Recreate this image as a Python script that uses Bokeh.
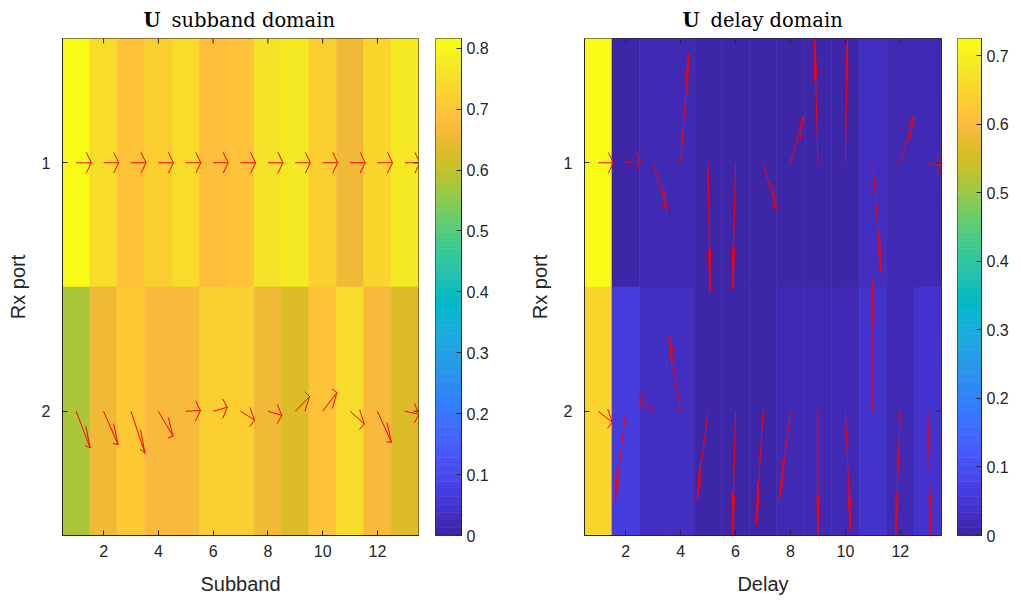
import numpy as np
from bokeh.plotting import figure
from bokeh.models import Range1d, LinearAxis, FixedTicker, ColumnDataSource
from bokeh.core.properties import value
from bokeh.transform import linear_cmap
from bokeh.layouts import row, column
from bokeh.embed import file_html
from bokeh.resources import INLINE

# ---------------- data ----------------
rx_ports = [1, 2]
subbands = list(range(1, 14))
delays = list(range(1, 14))
x_ticks = [2, 4, 6, 8, 10, 12]
y_ticks = [1, 2]

# |U| in subband domain (port 1 row, port 2 row)
sub_mag_port1 = [0.816, 0.740, 0.701, 0.724, 0.746, 0.676, 0.695, 0.759, 0.766, 0.714, 0.657, 0.727, 0.771]
sub_mag_port2 = [0.575, 0.657, 0.702, 0.672, 0.669, 0.724, 0.720, 0.652, 0.635, 0.699, 0.749, 0.672, 0.627]
# phase arrows (quiver components) in subband domain
sub_u_port1 = [0.55, 0.55, 0.55, 0.55, 0.55, 0.55, 0.55, 0.55, 0.55, 0.55, 0.55, 0.55, 0.55]
sub_v_port1 = [0.0, 0.0, 0.0, 0.0, 0.0, 0.0, 0.0, 0.0, 0.0, 0.0, 0.0, 0.0, 0.0]
sub_u_port2 = [0.51, 0.53, 0.51, 0.535, 0.537, 0.52, 0.51, 0.51, 0.52, 0.52, 0.52, 0.51, 0.52]
sub_v_port2 = [0.148, 0.134, 0.169, 0.10, -0.003, -0.016, 0.035, 0.017, -0.059, -0.075, 0.051, 0.125, 0.012]

# |U| in delay domain
delay_mag_port1 = [0.725, 0.011, 0.018, 0.018, 0.004, 0.004, 0.005, 0.007, 0.007, 0.007, 0.030, 0.020, 0.020]
delay_mag_port2 = [0.657, 0.060, 0.030, 0.030, 0.005, 0.006, 0.007, 0.018, 0.018, 0.018, 0.045, 0.022, 0.045]
delay_u_port1 = [0.55, 0.535, 0.51, 0.30, 0.073, -0.10, 0.50, 0.487, -0.12, 0.073, 0.30, 0.487, 0.50]
delay_v_port1 = [0.0, -0.008, 0.19, -0.438, 0.518, 0.508, 0.188, -0.188, -0.497, -0.497, 0.441, -0.188, 0.01]
delay_u_port2 = [0.51, -0.39, -0.51, -0.427, -0.40, -0.11, -0.244, -0.39, 0.0, 0.195, 0.0, -0.17, 0.12]
delay_v_port2 = [0.044, 0.363, -0.054, -0.305, 0.35, 0.497, 0.458, 0.347, 0.50, 0.484, -0.527, 0.497, 0.497]

cb1_ticks = [0, 0.1, 0.2, 0.3, 0.4, 0.5, 0.6, 0.7, 0.8]
cb2_ticks = [0, 0.1, 0.2, 0.3, 0.4, 0.5, 0.6, 0.7]

titles_bold = ["U", "U"]
titles_rest = ["subband domain", "delay domain"]
x_labels = ["Subband", "Delay"]
y_label = "Rx port"

# ---------------- style ----------------
PARULA_RGB = [
    (0.2422, 0.1504, 0.6603), (0.2504, 0.1650, 0.7076), (0.2578, 0.1818, 0.7511), (0.2647, 0.1978, 0.7952),
    (0.2706, 0.2147, 0.8364), (0.2751, 0.2342, 0.8710), (0.2783, 0.2559, 0.8991), (0.2803, 0.2782, 0.9221),
    (0.2813, 0.3006, 0.9414), (0.2810, 0.3228, 0.9579), (0.2795, 0.3447, 0.9717), (0.2760, 0.3667, 0.9829),
    (0.2699, 0.3892, 0.9906), (0.2602, 0.4123, 0.9952), (0.2440, 0.4358, 0.9988), (0.2206, 0.4603, 0.9973),
    (0.1963, 0.4847, 0.9892), (0.1834, 0.5074, 0.9798), (0.1786, 0.5289, 0.9682), (0.1764, 0.5499, 0.9520),
    (0.1687, 0.5703, 0.9359), (0.1540, 0.5902, 0.9218), (0.1460, 0.6091, 0.9079), (0.1380, 0.6276, 0.8973),
    (0.1248, 0.6459, 0.8883), (0.1113, 0.6635, 0.8763), (0.0952, 0.6798, 0.8598), (0.0689, 0.6948, 0.8394),
    (0.0297, 0.7082, 0.8163), (0.0036, 0.7203, 0.7917), (0.0067, 0.7312, 0.7660), (0.0433, 0.7411, 0.7394),
    (0.0964, 0.7500, 0.7120), (0.1408, 0.7584, 0.6842), (0.1717, 0.7670, 0.6554), (0.1938, 0.7758, 0.6251),
    (0.2161, 0.7843, 0.5923), (0.2470, 0.7918, 0.5567), (0.2906, 0.7973, 0.5188), (0.3406, 0.8008, 0.4789),
    (0.3909, 0.8029, 0.4354), (0.4456, 0.8024, 0.3909), (0.5044, 0.7993, 0.3480), (0.5616, 0.7942, 0.3045),
    (0.6174, 0.7876, 0.2612), (0.6720, 0.7793, 0.2227), (0.7242, 0.7698, 0.1910), (0.7738, 0.7598, 0.1646),
    (0.8203, 0.7498, 0.1535), (0.8634, 0.7406, 0.1596), (0.9035, 0.7330, 0.1774), (0.9393, 0.7288, 0.2100),
    (0.9728, 0.7298, 0.2394), (0.9956, 0.7434, 0.2371), (0.9970, 0.7659, 0.2199), (0.9952, 0.7893, 0.2028),
    (0.9892, 0.8136, 0.1885), (0.9786, 0.8386, 0.1766), (0.9676, 0.8639, 0.1643), (0.9610, 0.8890, 0.1537),
    (0.9597, 0.9135, 0.1423), (0.9628, 0.9373, 0.1265), (0.9691, 0.9606, 0.1064), (0.9769, 0.9839, 0.0805),
]
PARULA = ["#%02x%02x%02x" % tuple(int(round(c * 255)) for c in rgb) for rgb in PARULA_RGB]

AX = "#262626"
SANS = "Liberation Sans"
SERIF = "DejaVu Serif"
STRIP_H = 34
H = 564
TOP = 4
BOTTOM = 63
ALPHA, BETA = 0.33, 0.23


def style_axis(ax, ticks):
    ax.ticker = FixedTicker(ticks=ticks)
    ax.minor_tick_line_color = None
    ax.major_tick_in = 5
    ax.major_tick_out = 0
    ax.axis_line_color = AX
    ax.axis_line_width = 1
    ax.major_tick_line_color = AX
    ax.major_label_text_color = AX
    ax.major_label_text_font = SANS
    ax.major_label_text_font_size = "16px"
    ax.major_label_standoff = 9
    ax.axis_label_text_font = SANS
    ax.axis_label_text_font_style = "normal"
    ax.axis_label_text_font_size = "20px"
    ax.axis_label_text_color = AX


def panel(xvals, mag1, mag2, u1, v1, u2, v2, xlabel, ml, mr, fw):
    xr = Range1d(0.5, 13.5)
    yr = Range1d(2.5, 0.5)
    p = figure(width=ml + fw + mr, height=H, x_range=xr, y_range=yr,
               min_border_left=ml, min_border_right=mr, min_border_top=TOP, min_border_bottom=BOTTOM,
               toolbar_location=None, output_backend="svg", title=None,
               x_axis_location=None, y_axis_location=None)
    p.outline_line_color = AX
    p.outline_line_width = 1
    p.background_fill_color = "white"
    p.border_fill_color = "white"

    mags = list(mag1) + list(mag2)
    src = ColumnDataSource(dict(x=list(xvals) * 2,
                                y=[rx_ports[0]] * len(xvals) + [rx_ports[1]] * len(xvals),
                                val=mags))
    cmap = linear_cmap("val", PARULA, 0, max(mags))
    p.rect(x="x", y="y", width=1, height=1, source=src, fill_color=cmap, line_color=cmap, line_width=0.6)

    # quiver arrows (MATLAB-style heads computed in data space)
    x0 = np.array(list(xvals) * 2, dtype=float)
    y0 = np.array([rx_ports[0]] * len(xvals) + [rx_ports[1]] * len(xvals), dtype=float)
    u = np.array(list(u1) + list(u2))
    v = np.array(list(v1) + list(v2))
    x1 = x0 + u
    y1 = y0 + v
    hx1 = x1 - ALPHA * (u + BETA * v)
    hy1 = y1 - ALPHA * (v - BETA * u)
    hx3 = x1 - ALPHA * (u - BETA * v)
    hy3 = y1 - ALPHA * (v + BETA * u)
    p.segment(x0=x0, y0=y0, x1=x1, y1=y1, line_color="#ff0000", line_width=1)
    xs = [[a, b, c] for a, b, c in zip(hx1, x1, hx3)]
    ys = [[a, b, c] for a, b, c in zip(hy1, y1, hy3)]
    p.multi_line(xs=xs, ys=ys, line_color="#ff0000", line_width=1)

    # box ticks on top and right edges (dash markers centred on the edge, clipped to the frame)
    p.scatter(x=x_ticks, y=[yr.end] * len(x_ticks), marker="dash", size=10, angle=np.pi / 2,
              line_color=AX, line_width=1)
    p.scatter(x=[xr.end] * len(y_ticks), y=y_ticks, marker="dash", size=10, angle=0,
              line_color=AX, line_width=1)

    xb = LinearAxis(axis_label=xlabel)
    style_axis(xb, x_ticks)
    xb.axis_label_standoff = 13
    p.add_layout(xb, "below")
    yl = LinearAxis(axis_label=y_label)
    style_axis(yl, y_ticks)
    yl.major_label_standoff = 12
    yl.axis_label_standoff = 10
    p.add_layout(yl, "left")
    return p


def colorbar_fig(cmax, ticks, ml, mr):
    c = figure(width=ml + 26 + mr, height=H, x_range=Range1d(0, 1), y_range=Range1d(0, cmax),
               min_border_left=ml, min_border_right=mr, min_border_top=TOP, min_border_bottom=BOTTOM,
               toolbar_location=None, output_backend="svg", title=None,
               x_axis_location=None, y_axis_location=None)
    n = len(PARULA)
    bottoms = [cmax * i / n for i in range(n)]
    tops = [cmax * (i + 1) / n for i in range(n)]
    c.quad(left=0, right=1, bottom=bottoms, top=tops, fill_color=PARULA, line_color=PARULA, line_width=0.6)
    c.outline_line_color = AX
    c.outline_line_width = 1
    ax = LinearAxis()
    style_axis(ax, ticks)
    ax.major_label_standoff = 5
    ax.major_label_overrides = {t: ("0" if t == 0 else "%g" % t) for t in ticks}
    c.add_layout(ax, "right")
    return c


# widths (px): panel 1 | colorbar 1 | panel 2 | colorbar 2
W1, WC1, W2, WC2 = 426, 75, 448, 64
TOTAL_W = W1 + WC1 + W2 + WC2

f1 = panel(subbands, sub_mag_port1, sub_mag_port2, sub_u_port1, sub_v_port1, sub_u_port2, sub_v_port2,
           x_labels[0], 62, 8, 356)
cb1 = colorbar_fig(max(sub_mag_port1 + sub_mag_port2), cb1_ticks, 9, 40)
f2 = panel(delays, delay_mag_port1, delay_mag_port2, delay_u_port1, delay_v_port1, delay_u_port2, delay_v_port2,
           x_labels[1], 83, 8, 357)
cb2 = colorbar_fig(max(delay_mag_port1 + delay_mag_port2), cb2_ticks, 8, 28)

# title strip (coordinates in pixels of the strip, y measured from its top)
strip = figure(width=TOTAL_W, height=STRIP_H, x_range=Range1d(0, TOTAL_W), y_range=Range1d(STRIP_H, 0),
               min_border=0, toolbar_location=None, output_backend="svg", title=None,
               x_axis_location=None, y_axis_location=None)
strip.outline_line_color = None
strip.grid.visible = False
bold_x = [143, 682]
rest_x = [171, 710]
mid_y = [20, 20]
strip.text(x=bold_x, y=mid_y, text=titles_bold, text_font=value(SERIF), text_font_style="bold",
           text_font_size="19.5px", text_color="black", text_align="left", text_baseline="middle")
strip.text(x=rest_x, y=mid_y, text=titles_rest, text_font=value(SERIF), text_font_style="normal",
           text_font_size="19.5px", text_color="black", text_align="left", text_baseline="middle")

layout = column(strip, row(f1, cb1, f2, cb2))
open("out.html", "w").write(file_html(layout, INLINE))
